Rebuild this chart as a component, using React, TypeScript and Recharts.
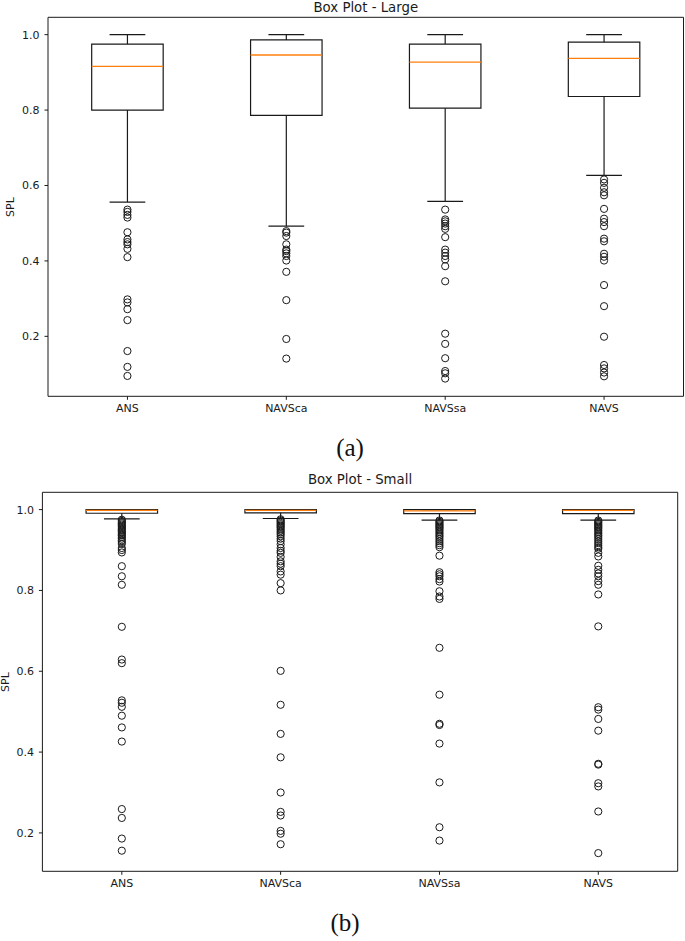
import { ComposedChart, XAxis, YAxis, Scatter, ReferenceArea, ReferenceLine } from 'recharts'

const categories = ['ANS', 'NAVSca', 'NAVSsa', 'NAVS']
const positions = [1, 2, 3, 4]
const yTicks = [0.2, 0.4, 0.6, 0.8, 1.0]

// Box Plot - Large
const largeWhiskerLow = [0.556, 0.492, 0.558, 0.627]
const largeQ1 = [0.8, 0.786, 0.805, 0.836]
const largeMedian = [0.916, 0.946, 0.927, 0.937]
const largeQ3 = [0.975, 0.986, 0.975, 0.98]
const largeWhiskerHigh = [1.0, 1.0, 1.0, 1.0]
const largeOutliers = [
    [0.536, 0.53, 0.522, 0.515, 0.476, 0.457, 0.45, 0.444, 0.432, 0.41, 0.298, 0.29, 0.272, 0.243, 0.161, 0.119, 0.095],
    [0.479, 0.475, 0.466, 0.444, 0.43, 0.426, 0.42, 0.413, 0.401, 0.371, 0.296, 0.193, 0.141],
    [0.536, 0.51, 0.505, 0.499, 0.492, 0.485, 0.463, 0.43, 0.422, 0.413, 0.404, 0.386, 0.346, 0.207, 0.18, 0.142, 0.108, 0.102, 0.088],
    [0.616, 0.607, 0.594, 0.582, 0.574, 0.538, 0.512, 0.503, 0.492, 0.459, 0.452, 0.419, 0.411, 0.401, 0.336, 0.28, 0.199, 0.124, 0.115, 0.104, 0.094],
]

// Box Plot - Small
const smallWhiskerLow = [0.977, 0.978, 0.974, 0.974]
const smallQ1 = [0.991, 0.992, 0.99, 0.99]
const smallMedian = [0.998, 0.998, 0.997, 0.998]
const smallQ3 = [1.0, 1.0, 1.0, 1.0]
const smallWhiskerHigh = [1.0, 1.0, 1.0, 1.0]
const smallOutliers = [
    [0.975, 0.972, 0.969, 0.966, 0.963, 0.96, 0.957, 0.954, 0.951, 0.948, 0.945, 0.942, 0.939, 0.936, 0.932, 0.928, 0.924, 0.92,
        0.915, 0.905, 0.9, 0.894, 0.86, 0.835, 0.814, 0.71, 0.629, 0.62, 0.528, 0.522, 0.512, 0.49, 0.461, 0.426, 0.259, 0.237, 0.186, 0.156],
    [0.976, 0.973, 0.97, 0.967, 0.964, 0.961, 0.958, 0.955, 0.951, 0.947, 0.943, 0.939, 0.934, 0.928, 0.922, 0.914, 0.905,
        0.898, 0.893, 0.883, 0.872, 0.866, 0.86, 0.847, 0.839, 0.818, 0.8, 0.601, 0.517, 0.445, 0.387, 0.3, 0.252, 0.243, 0.205, 0.198, 0.172],
    [0.973, 0.97, 0.967, 0.964, 0.961, 0.958, 0.955, 0.952, 0.948, 0.944, 0.94, 0.936, 0.932, 0.927, 0.922, 0.917, 0.912, 0.907,
        0.886, 0.845, 0.84, 0.835, 0.828, 0.822, 0.798, 0.785, 0.779, 0.658, 0.542, 0.47, 0.467, 0.421, 0.325, 0.214, 0.181],
    [0.973, 0.97, 0.967, 0.964, 0.961, 0.958, 0.955, 0.952, 0.948, 0.944, 0.94, 0.936, 0.932, 0.927, 0.922, 0.917, 0.912, 0.907, 0.903,
        0.893, 0.884, 0.861, 0.851, 0.842, 0.835, 0.823, 0.814, 0.79, 0.711, 0.511, 0.505, 0.482, 0.453, 0.371, 0.369, 0.323, 0.315, 0.253, 0.15],
]

const FONT = '"DejaVu Sans", sans-serif'
const BOX_W = 0.45
const INK = '#1a1a1a'
const ORANGE = '#ff7f0e'

interface BoxProps {
    top: number
    yWidth: number
    rightMargin: number
    domain: [number, number]
    title: string
    titleX: number
    titleY: number
    spl: number
    whiskerLow: number[]
    q1: number[]
    median: number[]
    q3: number[]
    whiskerHigh: number[]
    outliers: number[][]
}

const circle = (props: any) => {
    const { cx, cy } = props
    if (cx == null || cy == null) return <g />
    return <circle cx={cx} cy={cy} r={3.6} fill="none" stroke={INK} strokeWidth={1} />
}

function BoxChart(p: BoxProps) {
    const points = p.outliers.flatMap((vals, i) => vals.map((v) => ({ x: positions[i], y: v })))
    const hw = BOX_W / 2
    const cw = BOX_W / 4
    return (
        <div style={{ position: 'absolute', left: 0, top: p.top, width: 685, height: 430 }}>
            <div
                style={{
                    position: 'absolute',
                    left: p.titleX - 100,
                    width: 200,
                    top: p.titleY - 8,
                    height: 16,
                    lineHeight: '16px',
                    textAlign: 'center',
                    fontFamily: FONT,
                    fontSize: 13.3,
                    color: INK,
                }}
            >
                {p.title}
            </div>
            <div
                style={{
                    position: 'absolute',
                    left: p.spl - 20,
                    top: 17.3 + 189.5 - 8,
                    width: 40,
                    height: 16,
                    lineHeight: '16px',
                    textAlign: 'center',
                    fontFamily: FONT,
                    fontSize: 11,
                    color: INK,
                    transform: 'rotate(-90deg)',
                }}
            >
                SPL
            </div>
            <ComposedChart
                width={685}
                height={430}
                margin={{ top: 17.3, right: p.rightMargin, bottom: 0, left: 0 }}
            >
                <XAxis
                    type="number"
                    dataKey="x"
                    domain={[0.5, 4.5]}
                    ticks={positions}
                    allowDataOverflow
                    tickFormatter={(v: number) => categories[v - 1]}
                    height={33.7}
                    axisLine={false}
                    tickSize={3.5}
                    tickMargin={4}
                    tickLine={{ stroke: INK }}
                    tick={{ fill: INK, fontSize: 11, fontFamily: FONT }}
                />
                <YAxis
                    type="number"
                    dataKey="y"
                    domain={p.domain}
                    ticks={yTicks}
                    allowDataOverflow
                    width={p.yWidth}
                    axisLine={false}
                    tickSize={3.5}
                    tickMargin={5}
                    tickLine={{ stroke: INK }}
                    tickFormatter={(v: number) => v.toFixed(1)}
                    tick={{ fill: INK, fontSize: 11, fontFamily: FONT }}
                />
                <ReferenceArea
                    x1={0.5}
                    x2={4.5}
                    y1={p.domain[0]}
                    y2={p.domain[1]}
                    fill="none"
                    fillOpacity={0}
                    stroke={INK}
                    strokeWidth={1}
                    ifOverflow="visible"
                />
                {positions.map((x, i) => (
                    <ReferenceArea
                        key={`box-${i}`}
                        x1={x - hw}
                        x2={x + hw}
                        y1={p.q1[i]}
                        y2={p.q3[i]}
                        fill="#fff"
                        fillOpacity={0}
                        stroke={INK}
                        strokeWidth={1.2}
                        ifOverflow="visible"
                    />
                ))}
                {positions.map((x, i) => (
                    <ReferenceLine
                        key={`wl-${i}`}
                        segment={[{ x, y: p.q1[i] }, { x, y: p.whiskerLow[i] }]}
                        stroke={INK}
                        strokeWidth={1.2}
                        ifOverflow="visible"
                    />
                ))}
                {positions.map((x, i) => (
                    <ReferenceLine
                        key={`wh-${i}`}
                        segment={[{ x, y: p.q3[i] }, { x, y: p.whiskerHigh[i] }]}
                        stroke={INK}
                        strokeWidth={1.2}
                        ifOverflow="visible"
                    />
                ))}
                {positions.map((x, i) => (
                    <ReferenceLine
                        key={`cl-${i}`}
                        segment={[{ x: x - cw, y: p.whiskerLow[i] }, { x: x + cw, y: p.whiskerLow[i] }]}
                        stroke={INK}
                        strokeWidth={1.2}
                        ifOverflow="visible"
                    />
                ))}
                {positions.map((x, i) => (
                    <ReferenceLine
                        key={`ch-${i}`}
                        segment={[{ x: x - cw, y: p.whiskerHigh[i] }, { x: x + cw, y: p.whiskerHigh[i] }]}
                        stroke={INK}
                        strokeWidth={1.2}
                        ifOverflow="visible"
                    />
                ))}
                {positions.map((x, i) => (
                    <ReferenceLine
                        key={`md-${i}`}
                        segment={[{ x: x - hw, y: p.median[i] }, { x: x + hw, y: p.median[i] }]}
                        stroke={ORANGE}
                        strokeWidth={1.3}
                        ifOverflow="visible"
                    />
                ))}
                <Scatter data={points} dataKey="y" isAnimationActive={false} shape={circle} />
            </ComposedChart>
        </div>
    )
}

const captionStyle = {
    position: 'absolute' as const,
    width: 80,
    height: 30,
    lineHeight: '30px',
    textAlign: 'center' as const,
    fontFamily: '"Liberation Serif", "DejaVu Serif", serif',
    fontSize: 25,
    color: '#111',
}

export default function App() {
    return (
        <div style={{ position: 'absolute', left: 0, top: 0, width: 685, height: 941, background: '#fff', overflow: 'hidden' }}>
            <BoxChart
                top={0}
                yWidth={48}
                rightMargin={1.5}
                domain={[0.041, 1.046]}
                title="Box Plot - Large"
                titleX={365.8}
                titleY={7.5}
                spl={11}
                whiskerLow={largeWhiskerLow}
                q1={largeQ1}
                median={largeMedian}
                q3={largeQ3}
                whiskerHigh={largeWhiskerHigh}
                outliers={largeOutliers}
            />
            <div style={{ ...captionStyle, left: 350 - 40, top: 448 - 15 }}>(a)</div>
            <BoxChart
                top={475.4}
                yWidth={42.4}
                rightMargin={7.3}
                domain={[0.105, 1.0428]}
                title="Box Plot - Small"
                titleX={360}
                titleY={4.6}
                spl={5.5}
                whiskerLow={smallWhiskerLow}
                q1={smallQ1}
                median={smallMedian}
                q3={smallQ3}
                whiskerHigh={smallWhiskerHigh}
                outliers={smallOutliers}
            />
            <div style={{ ...captionStyle, left: 345 - 40, top: 923 - 15 }}>(b)</div>
        </div>
    )
}
